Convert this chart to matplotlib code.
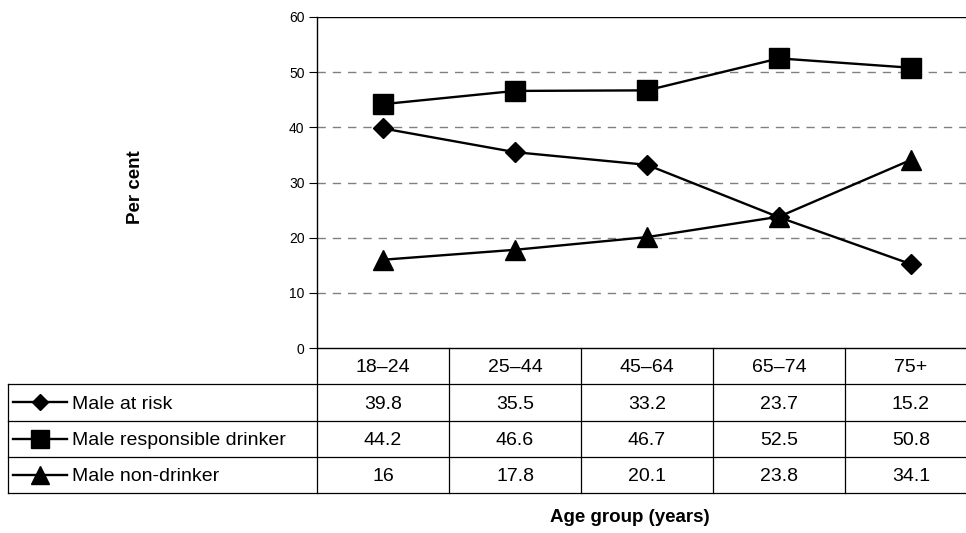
import matplotlib
matplotlib.use("Agg")
import matplotlib.pyplot as plt
from matplotlib.lines import Line2D

plt.rcParams['font.family'] = ['Liberation Sans', 'DejaVu Sans']

categories = ['18–24', '25–44', '45–64', '65–74', '75+']
series_names = ['Male at risk', 'Male responsible drinker', 'Male non-drinker']
at_risk = [39.8, 35.5, 33.2, 23.7, 15.2]
responsible = [44.2, 46.6, 46.7, 52.5, 50.8]
non_drinker = [16, 17.8, 20.1, 23.8, 34.1]
at_risk_labels = ['39.8', '35.5', '33.2', '23.7', '15.2']
responsible_labels = ['44.2', '46.6', '46.7', '52.5', '50.8']
non_drinker_labels = ['16', '17.8', '20.1', '23.8', '34.1']
yticks = [0, 10, 20, 30, 40, 50, 60]

W, H = 966, 533
fig = plt.figure(figsize=(W / 100, H / 100), dpi=100)

def fx(px):
    return px / W

def fy(py):
    return 1 - py / H

# main plot axes
ax = fig.add_axes([fx(317), fy(348), fx(660), (348 - 17) / H])
x = list(range(len(categories)))
series = [at_risk, responsible, non_drinker]
markers = [('D', 10), ('s', 15), ('^', 15)]
for vals, (m, ms) in zip(series, markers):
    ax.plot(x, vals, color='black', lw=1.7, marker=m, markersize=ms,
            markerfacecolor='black', markeredgecolor='black', zorder=3)

ax.set_xlim(-0.5, 4.5)
ax.set_ylim(0, 60)
ax.set_yticks(yticks)
ax.set_yticklabels([str(v) for v in yticks], fontsize=10)
ax.tick_params(axis='y', length=6, width=0.8, pad=3, direction='out')
ax.set_xticks([])
for yv in yticks[1:-1]:
    ax.axhline(yv, color='#808080', lw=1, dashes=(6, 5), zorder=1)
ax.axhline(60, color='black', lw=1, zorder=2)
ax.spines['right'].set_visible(False)
ax.spines['top'].set_visible(False)
ax.spines['left'].set_linewidth(1)
ax.spines['bottom'].set_linewidth(1)

# table axes
tax = fig.add_axes([fx(317), fy(493), fx(660), (493 - 348) / H])
tax.set_xlim(-0.5, 4.5)
tax.set_ylim(4, 0)
tax.axis('off')
lw = 0.9
left_ax = (8 - 317) / 660.0
for i in range(len(categories) + 1):
    tax.plot([i - 0.5, i - 0.5], [0, 4], color='black', lw=lw, clip_on=False)
for r in [1, 2, 3, 4]:
    tax.plot([left_ax, 1], [1 - r / 4, 1 - r / 4], color='black', lw=lw,
             clip_on=False, transform=tax.transAxes)
tax.plot([left_ax, left_ax], [0, 0.75], color='black', lw=lw,
         clip_on=False, transform=tax.transAxes)

fs = 14
for i, c in enumerate(categories):
    tax.text(i, 0.55, c, ha='center', va='center', fontsize=fs)
rows = [at_risk_labels, responsible_labels, non_drinker_labels]
for r, labels in enumerate(rows):
    for i, lab in enumerate(labels):
        tax.text(i, r + 1.55, lab, ha='center', va='center', fontsize=fs)

for r, (name, (m, ms)) in enumerate(zip(series_names, markers)):
    yc = 1 - (r + 1.5) / 4
    x0 = (13 - 317) / 660.0
    x1 = (67 - 317) / 660.0
    xm = (40 - 317) / 660.0
    tax.add_line(Line2D([x0, x1], [yc, yc], color='black', lw=1.7,
                        transform=tax.transAxes, clip_on=False))
    tax.add_line(Line2D([xm], [yc], color='black', marker=m,
                        markersize=ms * 0.85, transform=tax.transAxes,
                        clip_on=False))
    tax.text((72 - 317) / 660.0, yc - 0.012, name, ha='left', va='center',
             fontsize=fs, transform=tax.transAxes)

fig.text(fx(136), fy(187), 'Per cent', rotation=90, ha='center', va='center',
         fontsize=13.5, fontweight='bold')
fig.text(fx(630), fy(518), 'Age group (years)', ha='center', va='center',
         fontsize=13.5, fontweight='bold')

fig.savefig('out.png', dpi=100)
